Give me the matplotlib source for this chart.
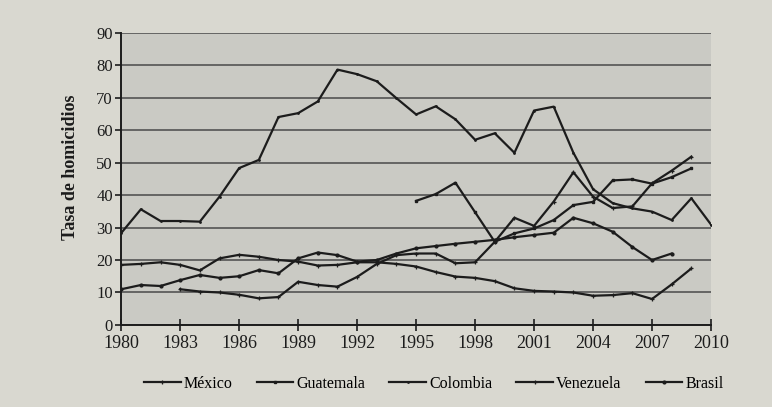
import matplotlib.pyplot as plt
import numpy as np

# values (homicide rate per 100k)
years = list(range(1980, 2011))

colombia = [28.3, 35.6, 32.0, 32.0, 31.8, 39.5, 48.3, 50.8, 64.0, 65.2, 68.8, 78.6,
            77.2, 75.0, 69.8, 64.8, 67.3, 63.3, 57.0, 59.0, 53.0, 66.0, 67.2, 53.0,
            41.8, 37.5, 35.9, 34.9, 32.3, 39.0, 30.9]

mexico_years = list(range(1980, 2010))
mexico = [18.5, 18.8, 19.3, 18.5, 16.8, 20.5, 21.6, 21.0, 20.0, 19.5, 18.3, 18.5,
          19.3, 19.3, 18.8, 18.0, 16.3, 14.9, 14.5, 13.5, 11.3, 10.5, 10.3, 10.0,
          9.0, 9.2, 9.8, 8.0, 12.5, 17.4]

guatemala_years = list(range(1995, 2010))
guatemala = [38.2, 40.3, 43.8, 34.7, 25.6, 28.2, 29.7, 32.3, 36.9, 37.9, 44.5, 44.8,
             43.5, 45.5, 48.2]

venezuela_years = list(range(1983, 2010))
venezuela = [11.0, 10.3, 10.0, 9.3, 8.2, 8.6, 13.3, 12.3, 11.8, 14.8, 18.8, 21.5,
             22.0, 22.0, 19.0, 19.3, 25.6, 33.0, 30.5, 38.0, 47.0, 39.5, 36.0, 36.5,
             43.6, 47.5, 51.8]

brasil_years = list(range(1980, 2009))
brasil = [11.0, 12.3, 12.0, 13.8, 15.4, 14.5, 15.0, 16.9, 15.9, 20.5, 22.3, 21.5,
          19.5, 20.0, 22.0, 23.6, 24.3, 25.0, 25.6, 26.2, 27.0, 27.7, 28.4, 33.0,
          31.3, 28.7, 24.0, 20.0, 22.0]

xticks = list(range(1980, 2011, 3))
yticks = list(range(0, 91, 10))

plt.rcParams['font.family'] = ['Liberation Serif', 'DejaVu Serif']

fig = plt.figure(figsize=(7.72, 4.07), dpi=100)
fig.patch.set_facecolor('#d9d8d0')
ax = fig.add_axes([0.157, 0.2015, 0.764, 0.7185])
ax.set_facecolor('#cacac4')

ink = '#1c1c1c'
ax.plot(mexico_years, mexico, color=ink, lw=1.6, marker='+', ms=3.5, mew=0.9, label='México')
ax.plot(guatemala_years, guatemala, color=ink, lw=1.6, marker='s', ms=1.8, label='Guatemala')
ax.plot(years, colombia, color=ink, lw=1.6, marker='.', ms=2, label='Colombia')
ax.plot(venezuela_years, venezuela, color=ink, lw=1.6, marker='+', ms=3, mew=0.9, label='Venezuela')
ax.plot(brasil_years, brasil, color=ink, lw=1.6, marker='o', ms=2, label='Brasil')

ax.set_xlim(1980, 2010)
ax.set_ylim(0, 90)
ax.set_xticks(xticks)
ax.set_xticklabels([str(y) for y in xticks], fontsize=13)
ax.set_yticks(yticks)
ax.set_yticklabels([str(v) for v in yticks], fontsize=12)
ax.yaxis.grid(True, color='#4a4a4a', lw=1.1)
ax.set_axisbelow(True)
for s in ['top', 'right']:
    ax.spines[s].set_visible(False)
for s in ['left', 'bottom']:
    ax.spines[s].set_color(ink)
    ax.spines[s].set_linewidth(1.4)
ax.tick_params(axis='x', direction='inout', length=8, width=1.2, color=ink, pad=3, labelcolor=ink)
ax.tick_params(axis='y', direction='out', length=4, width=1.2, color=ink, pad=2, labelcolor=ink)
ax.set_ylabel('Tasa de homicidios', fontsize=13, fontweight='bold', color=ink)
ax.yaxis.set_label_coords(-0.072, 0.54)

ax.legend(loc='upper center', bbox_to_anchor=(0.53, -0.125), ncol=5, frameon=False,
          fontsize=11.5, handlelength=2.3, columnspacing=1.5, handletextpad=0.2)

fig.savefig('out.png', dpi=100, facecolor=fig.get_facecolor())
